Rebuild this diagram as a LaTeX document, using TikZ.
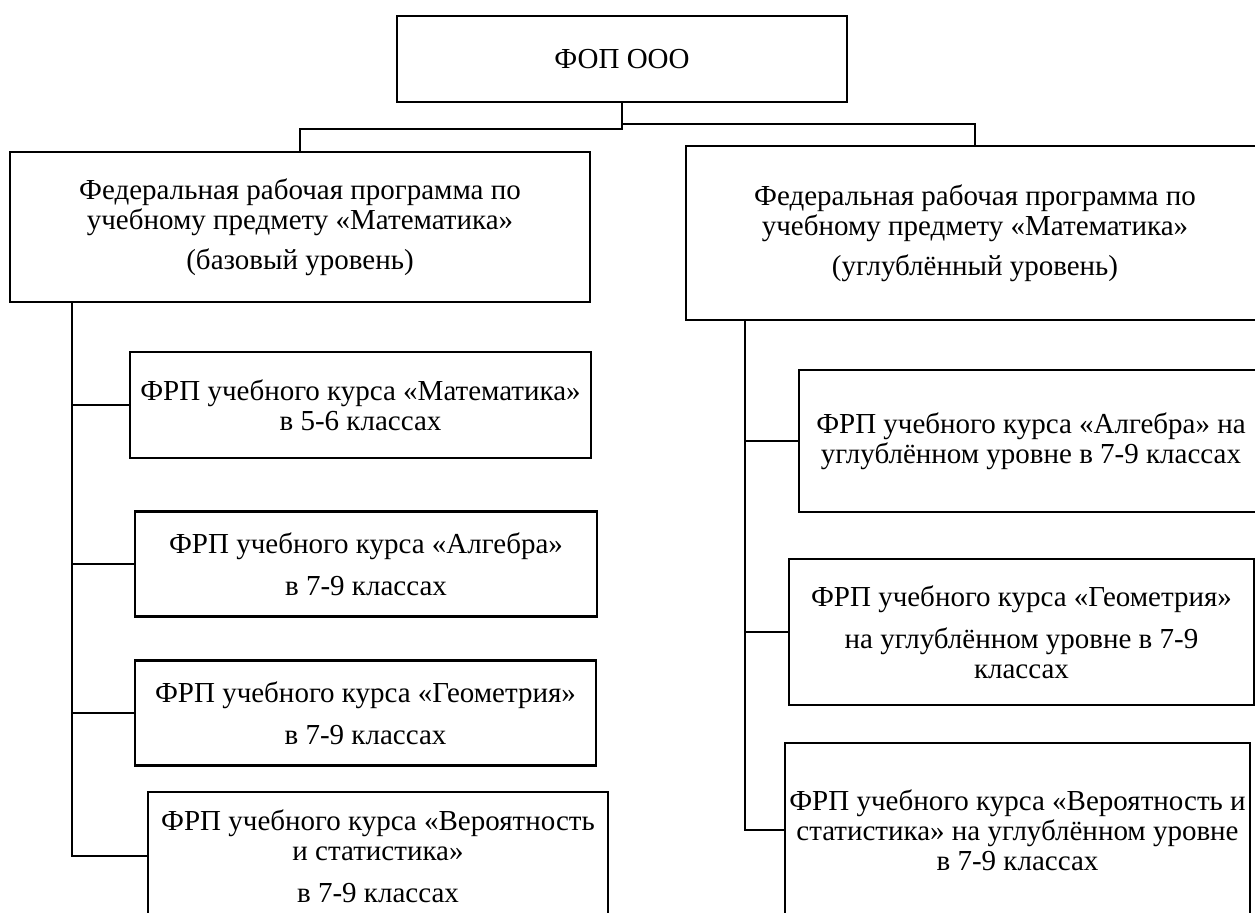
\documentclass[tikz,border=0pt]{standalone}
\usepackage{fontspec}
\setmainfont{Liberation Serif}
\begin{document}
\begin{tikzpicture}[x=0.5pt,y=-0.5pt,
  box/.style={draw, line width=1.3pt, inner sep=0pt, align=center,
    font=\fontsize{14.5}{15}\selectfont},
  conn/.style={line width=1.3pt}]
\useasboundingbox (0,0) rectangle (1255,913);
\clip (0,0) rectangle (1255,913);
\node[box, minimum width=225pt, minimum height=43pt] (top) at (622,59) {ФОП ООО};
\node[box, minimum width=290pt, minimum height=75pt] (lm) at (300,227)
  {Федеральная рабочая программа по\\учебному предмету «Математика»\\[5pt](базовый уровень)};
\node[box, minimum width=289pt, minimum height=87pt] (rm) at (975,233)
  {Федеральная рабочая программа по\\учебному предмету «Математика»\\[5pt](углублённый уровень)};
% left column
\node[box, minimum width=230.5pt, minimum height=53pt] (b1) at (360.5,405)
  {ФРП учебного курса «Математика»\\в 5-6 классах};
\node[box, minimum width=231pt, minimum height=52.5pt] (b2) at (366,564)
  {ФРП учебного курса «Алгебра»\\[6pt]в 7-9 классах};
\node[box, minimum width=230.5pt, minimum height=52.5pt] (b3) at (365.5,713)
  {ФРП учебного курса «Геометрия»\\[6pt]в 7-9 классах};
\node[box, minimum width=230pt, minimum height=64pt] (b4) at (378,856)
  {ФРП учебного курса «Вероятность\\и статистика»\\[6pt]в 7-9 классах};
% right column
\node[box, minimum width=232pt, minimum height=71pt] (r1) at (1031,441)
  {ФРП учебного курса «Алгебра» на\\углублённом уровне в 7-9 классах};
\node[box, minimum width=232.5pt, minimum height=73pt] (r2) at (1021.5,632)
  {ФРП учебного курса «Геометрия»\\[6pt]на углублённом уровне в 7-9\\классах};
\node[box, minimum width=232.5pt, minimum height=87pt] (r3) at (1017.5,830)
  {ФРП учебного курса «Вероятность и\\статистика» на углублённом уровне\\в 7-9 классах};
% connectors from top
\coordinate (jl) at (622,129);
\coordinate (jr) at (622,124);
\draw[conn] (top.south) -- (jl) -| (lm.north);
\draw[conn] (jr) -| (rm.north);
% left spine
\coordinate (ls) at (72,302);
\draw[conn] (ls) |- (b4.west);
\draw[conn] (ls |- b1.west) -- (b1.west);
\draw[conn] (ls |- b2.west) -- (b2.west);
\draw[conn] (ls |- b3.west) -- (b3.west);
% right spine
\coordinate (rs) at (745,320);
\draw[conn] (rs) |- (r3.west);
\draw[conn] (rs |- r1.west) -- (r1.west);
\draw[conn] (rs |- r2.west) -- (r2.west);
\end{tikzpicture}
\end{document}
